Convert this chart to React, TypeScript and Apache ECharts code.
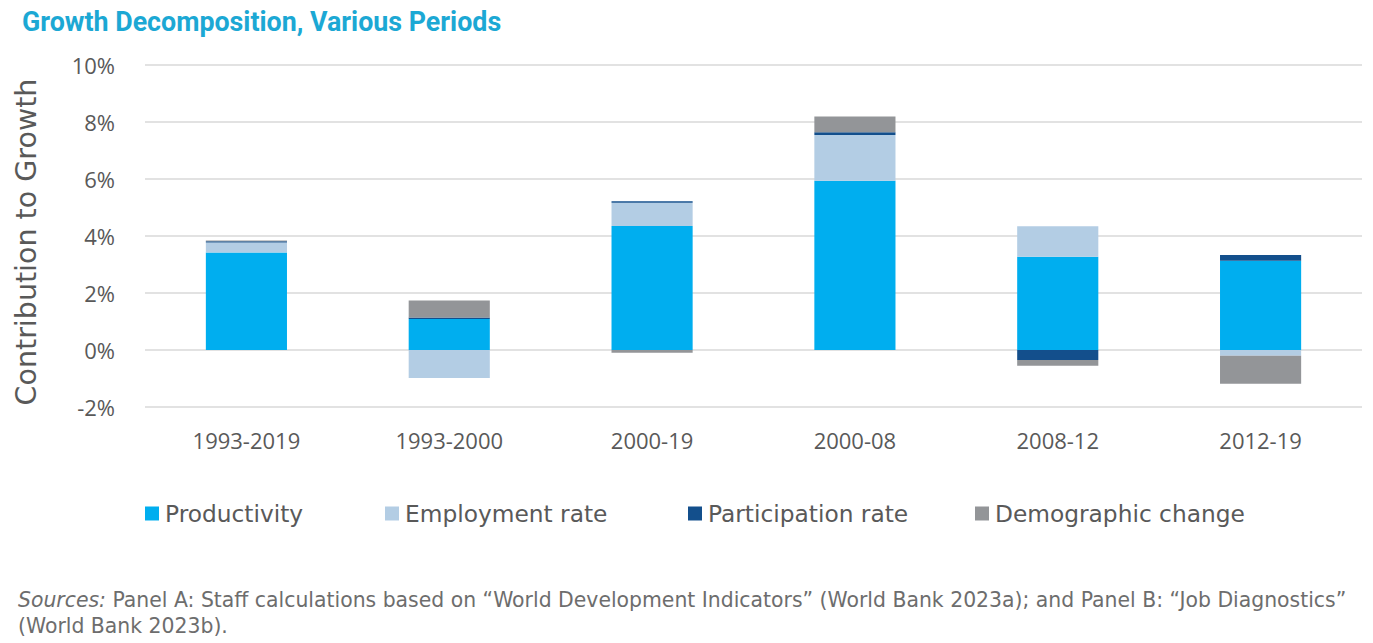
import React, { useEffect, useRef } from "react";
import * as echarts from "echarts";

const categories = ["1993-2019", "1993-2000", "2000-19", "2000-08", "2008-12", "2012-19"];
const productivity = [3.42, 1.09, 4.35, 5.94, 3.27, 3.13];
const employmentRate = [0.35, -0.98, 0.82, 1.6, 1.07, -0.2];
const participationRate = [0.05, 0.05, 0.05, 0.1, -0.35, 0.2];
const demographicChange = [0.02, 0.6, -0.1, 0.55, -0.2, -0.98];
const yTicks = { min: -2, max: 10, interval: 2 };

const COLORS = {
  productivity: "#00aeef",
  employment: "#b3cde4",
  participation: "#134f8c",
  demographic: "#939598",
};

const FONT = "'Open Sans', 'Noto Sans', sans-serif";
const WIDE = "'DejaVu Sans', 'Open Sans', sans-serif";
const TEXT = "#595959";

export default function App() {
  const ref = useRef<HTMLDivElement>(null);
  useEffect(() => {
    if (!ref.current) return;
    const chart = echarts.init(ref.current, undefined, { renderer: "svg" });
    const mk = (name: string, data: number[], color: string) => ({
      name,
      type: "bar",
      stack: "total",
      data,
      barWidth: "40%",
      itemStyle: { color },
      emphasis: { disabled: true },
    });
    const legendItem = (name: string, left: number) => ({
      data: [name],
      left,
      top: 497,
      itemWidth: 14,
      itemHeight: 14,
      itemGap: 0,
      icon: "rect",
      textStyle: { fontFamily: WIDE, fontSize: 23.3, color: TEXT, padding: [0, 0, 0, 1] },
    });
    chart.setOption({
      animation: false,
      backgroundColor: "#ffffff",
      title: {
        text: "Growth Decomposition, Various Periods",
        left: 17,
        top: 3,
        textStyle: {
          fontFamily: "'Liberation Sans Narrow', 'Roboto', sans-serif",
          fontWeight: "bold",
          fontSize: 26.8,
          color: "#1ca8d4",
        },
      },
      grid: { left: 145, right: 11, top: 65, bottom: 236 },
      legend: [
        legendItem("Productivity", 140),
        legendItem("Employment rate", 380),
        legendItem("Participation rate", 683),
        legendItem("Demographic change", 970),
      ],
      xAxis: {
        type: "category",
        data: categories,
        axisLine: { show: false },
        axisTick: { show: false },
        axisLabel: { fontFamily: FONT, fontSize: 22, color: TEXT, margin: 22 },
      },
      yAxis: {
        type: "value",
        min: yTicks.min,
        max: yTicks.max,
        interval: yTicks.interval,
        name: "Contribution to Growth",
        nameLocation: "middle",
        nameGap: 104,
        nameTextStyle: { fontFamily: WIDE, fontSize: 28.5, color: TEXT, padding: [0, 12, 0, 0] },
        axisLabel: {
          fontFamily: FONT,
          fontSize: 22,
          color: TEXT,
          margin: 30,
          formatter: (v: number) => `${v}%`,
        },
        splitLine: { lineStyle: { color: "#d9d9d9", width: 1.5 } },
      },
      series: [
        mk("Productivity", productivity, COLORS.productivity),
        mk("Employment rate", employmentRate, COLORS.employment),
        mk("Participation rate", participationRate, COLORS.participation),
        mk("Demographic change", demographicChange, COLORS.demographic),
      ],
      graphic: [
        {
          type: "text",
          left: 18,
          top: 587,
          style: {
            text: "{i|Sources:} Panel A: Staff calculations based on \u201cWorld Development Indicators\u201d (World Bank 2023a); and Panel B: \u201cJob Diagnostics\u201d\n(World Bank 2023b).",
            fontFamily: WIDE,
            fontSize: 20.4,
            lineHeight: 26,
            fill: "#6d6d6d",
            rich: {
              i: { fontStyle: "italic", fontFamily: WIDE, fontSize: 20.4, fill: "#6d6d6d" },
            },
          },
        },
      ],
    });
    return () => chart.dispose();
  }, []);
  return (
    <div
      ref={ref}
      style={{ position: "fixed", left: 0, top: 0, width: 1373, height: 643, background: "#fff" }}
    />
  );
}
